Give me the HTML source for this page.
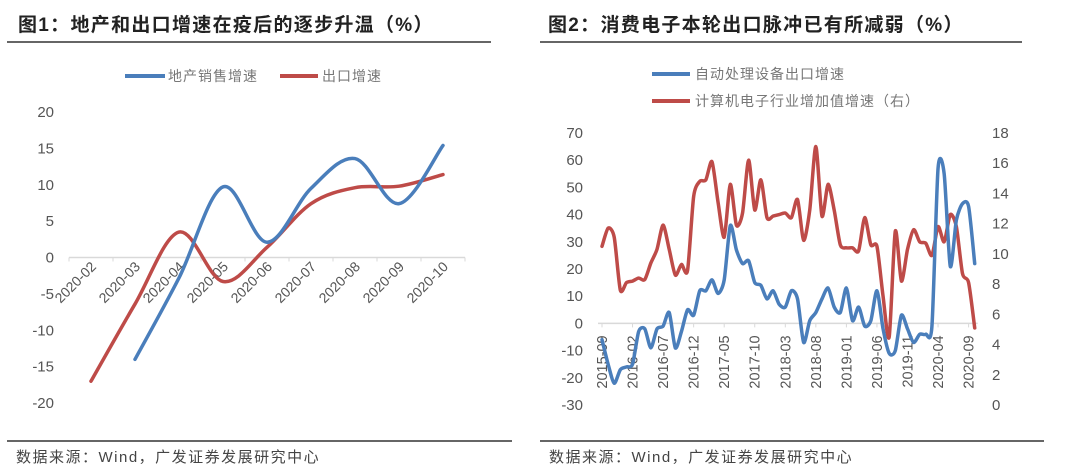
<!DOCTYPE html>
<html><head><meta charset="utf-8">
<style>
html,body{margin:0;padding:0;background:#fff;}
body{width:1080px;height:467px;overflow:hidden;font-family:"Liberation Sans","Noto Sans CJK SC",sans-serif;}
svg{position:absolute;left:0;top:0;}
</style></head>
<body>
<svg id="c" width="1080" height="467" xmlns="http://www.w3.org/2000/svg">
  <text x="18" y="31" font-size="19" font-weight="bold" letter-spacing="1.3" fill="#222">图1：地产和出口增速在疫后的逐步升温（%）</text>
  <line x1="7" y1="42" x2="491" y2="42" stroke="#333" stroke-width="1.5"/>
  <text x="548" y="31" font-size="19" font-weight="bold" letter-spacing="1.3" fill="#222">图2：消费电子本轮出口脉冲已有所减弱（%）</text>
  <line x1="540" y1="42" x2="1022" y2="42" stroke="#333" stroke-width="1.5"/>

  <g>
    <line x1="125" y1="76" x2="165" y2="76" stroke="#4a7ebb" stroke-width="4"/>
    <text x="168" y="81" font-size="14" letter-spacing="1" fill="#777">地产销售增速</text>
    <line x1="280" y1="76" x2="318" y2="76" stroke="#be4b48" stroke-width="4"/>
    <text x="322" y="81" font-size="14" letter-spacing="1" fill="#777">出口增速</text>
  </g>
  <g>
    <line x1="652" y1="74" x2="690" y2="74" stroke="#4a7ebb" stroke-width="4"/>
    <text x="695" y="79" font-size="14" letter-spacing="1" fill="#777">自动处理设备出口增速</text>
    <line x1="652" y1="101" x2="690" y2="101" stroke="#be4b48" stroke-width="4"/>
    <text x="695" y="106" font-size="14" letter-spacing="1" fill="#777">计算机电子行业增加值增速（右）</text>
  </g>

  <g id="g1"></g>
  <g id="g2"></g>

  <line x1="7" y1="441" x2="512" y2="441" stroke="#333" stroke-width="1.5"/>
  <text x="16" y="462" font-size="15" letter-spacing="1.5" fill="#444">数据来源：Wind，广发证券发展研究中心</text>
  <line x1="540" y1="441" x2="1044" y2="441" stroke="#333" stroke-width="1.5"/>
  <text x="549" y="462" font-size="15" letter-spacing="1.5" fill="#444">数据来源：Wind，广发证券发展研究中心</text>
</svg>
<script>
// Chart 1 data
const c1Categories = ["2020-02","2020-03","2020-04","2020-05","2020-06","2020-07","2020-08","2020-09","2020-10"];
const c1Property = [null,-14,-2.8,9.7,2.1,9.5,13.6,7.4,15.4];
const c1Export = [-17,-6.4,3.5,-3.3,1.4,7.4,9.6,9.8,11.4];
const c1Ticks = [20,15,10,5,0,-5,-10,-15,-20];

// Chart 2 data
const c2Start = [2015, 9];
const c2Adp = [-6,-15,-22,-17,-16,-15,-3,-2,-9,-2,-1,4,-9,-3,5,3,12,12,16,11,16,36,27,22,23,15,14,9,12,7,6,12,9,-7,1,4,9,13,6,4,13,1,6,-1,1,12,-2,-11,-10,3,-2,-7,-4,-4,-1,57,55,21,38,44,43,22];
const c2Elec = [10.5,11.7,11.1,7.6,8.1,8.2,8.4,8.3,9.4,10.3,11.9,10.3,8.6,9.3,8.9,13.8,14.8,14.9,16.1,13.4,11.1,14.6,11.9,12.7,16.2,12.9,14.9,12.4,12.5,12.6,12.7,12.4,13.6,10.9,12.9,17.1,12.5,14.6,12.9,10.6,10.4,10.4,10.2,12.4,10.6,10.5,7.2,4.5,11.5,8.2,10.3,11.6,10.8,10.7,9.9,11.8,10.8,12.6,11.8,8.7,8.1,5.1];
const c2LeftTicks = [70,60,50,40,30,20,10,0,-10,-20,-30];
const c2RightTicks = [18,16,14,12,10,8,6,4,2,0];

const NS = "http://www.w3.org/2000/svg";
function mk(tag, attrs, parent){const e=document.createElementNS(NS,tag);for(const k in attrs)e.setAttribute(k,attrs[k]);parent.appendChild(e);return e;}
function smooth(pts,t){
  t=t||6;
  if(pts.length<2)return "";
  let d="M"+pts[0][0]+","+pts[0][1];
  for(let i=0;i<pts.length-1;i++){
    const p0=pts[Math.max(0,i-1)],p1=pts[i],p2=pts[i+1],p3=pts[Math.min(pts.length-1,i+2)];
    d+=" C"+(p1[0]+(p2[0]-p0[0])/t)+","+(p1[1]+(p2[1]-p0[1])/t)+" "+(p2[0]-(p3[0]-p1[0])/t)+","+(p2[1]-(p3[1]-p1[1])/t)+" "+p2[0]+","+p2[1];
  }
  return d;
}

// Chart 1
(function(){
  const g=document.getElementById('g1');
  const x0=69,x1=465,yTop=112,yBot=403,vMax=20,vMin=-20;
  const bw=(x1-x0)/c1Categories.length;
  const xs=i=>x0+bw*(i+0.5);
  const ys=v=>yTop+(vMax-v)/(vMax-vMin)*(yBot-yTop);
  c1Ticks.forEach(t=>{
    const tx=mk('text',{x:54,y:ys(t)+5,'font-size':15,fill:'#555','text-anchor':'end'},g);
    tx.textContent=t;
    
    
  });
  const ax=mk('line',{x1:x0,y1:ys(0),x2:x1,y2:ys(0),stroke:'#d9d9d9','stroke-width':1.5},g);
  
  
  for(let i=0;i<=c1Categories.length;i++){
    const tk=mk('line',{x1:x0+bw*i,y1:ys(0),x2:x0+bw*i,y2:ys(0)+4,stroke:'#d9d9d9','stroke-width':1},g);
    
    
  }
  c1Categories.forEach((c,i)=>{
    const cx=xs(i)+6, cy=ys(0)+10;
    const tx=mk('text',{x:cx,y:cy,'font-size':14,fill:'#555','text-anchor':'end',transform:'rotate(-45 '+cx+' '+cy+')'},g);
    tx.textContent=c;
    
    
  });
  function series(vals,color,name){
    const pts=[];vals.forEach((v,i)=>{if(v!==null)pts.push([xs(i),ys(v)]);});
    const p=mk('path',{d:smooth(pts,6),fill:'none',stroke:color,'stroke-width':3.5,'stroke-linecap':'round','stroke-linejoin':'round'},g);
    
    
  }
  series(c1Export,'#be4b48','export-growth-line');
  series(c1Property,'#4a7ebb','property-sales-line');
})();

// Chart 2
(function(){
  const g=document.getElementById('g2');
  const xStart=602, step=6.11, yTop=133, yBot=405;
  const xs=i=>xStart+i*step;
  const yl=v=>yTop+(70-v)/100*(yBot-yTop);
  const yr=v=>yTop+(18-v)/18*(yBot-yTop);
  c2LeftTicks.forEach(t=>{
    const tx=mk('text',{x:583,y:yl(t)+5,'font-size':15,fill:'#555','text-anchor':'end'},g);
    tx.textContent=t;
    
    
  });
  c2RightTicks.forEach(t=>{
    const tx=mk('text',{x:992,y:yr(t)+5,'font-size':15,fill:'#555','text-anchor':'start'},g);
    tx.textContent=t;
    
    
  });
  const ax=mk('line',{x1:xStart-4,y1:yl(0),x2:xs(c2Adp.length-1)+3,y2:yl(0),stroke:'#d9d9d9','stroke-width':1.5},g);
  
  
  for(let i=0;i<c2Adp.length;i+=5){
    const m0=c2Start[1]-1+i, yr_=c2Start[0]+Math.floor(m0/12), mo=(m0%12)+1;
    const lab=yr_+'-'+(mo<10?'0'+mo:mo);
    const tk=mk('line',{x1:xs(i),y1:yl(0),x2:xs(i),y2:yl(0)+4,stroke:'#d9d9d9','stroke-width':1},g);
    
    
    const cx=xs(i)+5, cy=yl(0)+12;
    const tx=mk('text',{x:cx,y:cy,'font-size':14.5,fill:'#555','text-anchor':'end',transform:'rotate(-90 '+cx+' '+cy+')'},g);
    tx.textContent=lab;
    
    
  }
  const pr=mk('path',{d:smooth(c2Elec.map((v,i)=>[xs(i),yr(v)]),8),fill:'none',stroke:'#be4b48','stroke-width':3.5,'stroke-linejoin':'round','stroke-linecap':'round'},g);
  
  
  const pb=mk('path',{d:smooth(c2Adp.map((v,i)=>[xs(i),yl(v)]),8),fill:'none',stroke:'#4a7ebb','stroke-width':3.5,'stroke-linejoin':'round','stroke-linecap':'round'},g);
  
  
})();
</script>
</body></html>
